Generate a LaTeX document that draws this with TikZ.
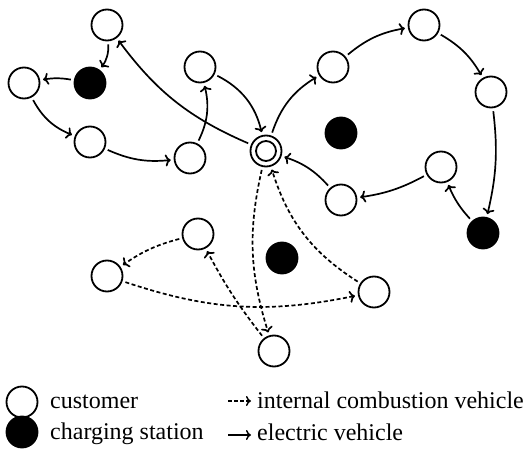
\documentclass[tikz,border=0pt]{standalone}
\usepackage{fontspec}
\setmainfont{Liberation Serif}
\usetikzlibrary{arrows.meta}
\begin{document}
\begin{tikzpicture}[x=1pt,y=-1pt,
  cust/.style={circle,draw,line width=1.8pt,minimum size=31pt,inner sep=0pt},
  station/.style={cust,fill=black},
  depot/.style={cust,path picture={\draw[line width=1.8pt] (path picture bounding box.center) circle (10pt);}},
  ev/.style={-{To[length=5.5pt,width=12pt]},line width=1.7pt,shorten >=3pt,shorten <=3pt},
  icv/.style={ev,dash pattern=on 4pt off 2.5pt},
  keyev/.style={-{To[length=5pt,width=10pt]},line width=1.4pt},
  keyicv/.style={keyev,dash pattern=on 3.5pt off 2.5pt},
  legend/.style={anchor=base west,inner sep=0pt,font=\fontsize{24}{28}\selectfont}]
\useasboundingbox (0,0) rectangle (525,452);

% depot
\node[depot] (O) at (266,151) {};

% customers
\node[cust] (A) at (107,25) {};
\node[cust] (B) at (24,83) {};
\node[cust] (C) at (90,142) {};
\node[cust] (D) at (190,158) {};
\node[cust] (E) at (200,67) {};
\node[cust] (F) at (333,67) {};
\node[cust] (G) at (424,25) {};
\node[cust] (H) at (491,92) {};
\node[cust] (I) at (441,167) {};
\node[cust] (J) at (341,200) {};
\node[cust] (K) at (198,234) {};
\node[cust] (L) at (107,276) {};
\node[cust] (M) at (374,292) {};
\node[cust] (N) at (274,351) {};

% charging stations
\node[station] (S1) at (90,83) {};
\node[station] (S2) at (483,233) {};
\node[station] (S3) at (341,133) {};
\node[station] (S4) at (282,258) {};

% electric vehicle routes
\draw[ev] (A) to[bend left=20] (S1);
\draw[ev] (S1) to[bend right=10] (B);
\draw[ev] (B) to[bend right=20] (C);
\draw[ev] (C) to[bend right=15] (D);
\draw[ev] (D) to[bend right=20] (E);
\draw[ev] (E) to[bend left=25] (O);
\draw[ev] (O) to[bend left=15] (A);
\draw[ev] (O) to[bend left=20] (F);
\draw[ev] (F) to[bend left=15] (G);
\draw[ev] (G) to[bend left=15] (H);
\draw[ev] (H) to[bend left=10] (S2);
\draw[ev] (S2) to[bend left=10] (I);
\draw[ev] (I) to[bend left=10] (J);
\draw[ev] (J) to[bend right=15] (O);

% internal combustion vehicle route
\draw[icv] (O) to[bend right=15] (N);
\draw[icv] (N) to[bend left=5] (K);
\draw[icv] (K) to[bend right=10] (L);
\draw[icv] (L) to[bend right=15] (M);
\draw[icv] (M) to[bend left=20] (O);

% legend
\node[cust] (lc) at (22,402) {};
\node[station] (ls) at (22,432) {};
\node[legend] (lct) at (50,408) {customer};
\node[legend] (lst) at (50,439) {charging station};
\coordinate (ki0) at (228,401);
\coordinate (ki1) at (251,401);
\coordinate (ke0) at (228,435);
\coordinate (ke1) at (251,435);
\draw[keyicv] (ki0) -- (ki1);
\draw[keyev] (ke0) -- (ke1);
\node[legend] (lit) at (257,408) {internal combustion vehicle};
\node[legend] (let) at (257,440) {electric vehicle};
\end{tikzpicture}
\end{document}
